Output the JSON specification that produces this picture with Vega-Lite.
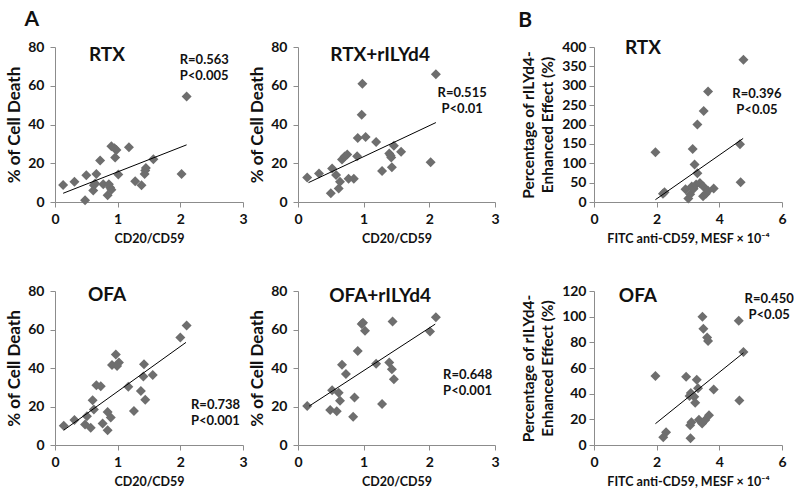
{
  "$schema": "https://vega.github.io/schema/vega-lite/v6.json",
  "padding": {"left": 5, "top": 9, "right": 0, "bottom": 0},
  "background": "white",
  "spacing": 18,
  "config": {
    "view": {"stroke": null},
    "font": "Lato",
    "axis": {
      "grid": false,
      "domainColor": "#8c8c8c",
      "tickColor": "#8c8c8c",
      "tickSize": 5,
      "labelFont": "Lato",
      "labelFontWeight": "bold",
      "labelFontSize": 14,
      "labelColor": "#111111",
      "titleFont": "Lato",
      "titleFontWeight": "bold",
      "titleColor": "#111111",
      "labelFlush": false,
      "labelOverlap": false
    },
    "axisX": {"labelPadding": 5, "titleFontSize": 12.5, "titlePadding": 6},
    "axisY": {"labelPadding": 6, "titleFontSize": 17, "titlePadding": 4}
  },
  "datasets": {
    "p1": [
      {"x": 0.13, "y": 8.8}, {"x": 0.31, "y": 10.5}, {"x": 0.48, "y": 0.9}, {"x": 0.5, "y": 13.8},
      {"x": 0.61, "y": 5.9}, {"x": 0.62, "y": 8.6}, {"x": 0.64, "y": 9.5}, {"x": 0.66, "y": 14.5},
      {"x": 0.72, "y": 21.4}, {"x": 0.77, "y": 9.2}, {"x": 0.84, "y": 3.5}, {"x": 0.86, "y": 9.2},
      {"x": 0.88, "y": 7.5}, {"x": 0.9, "y": 6.3}, {"x": 0.9, "y": 28.8}, {"x": 0.95, "y": 27.8},
      {"x": 0.96, "y": 23}, {"x": 0.98, "y": 26.8}, {"x": 1.01, "y": 14.2}, {"x": 1.18, "y": 28.3},
      {"x": 1.28, "y": 10.7}, {"x": 1.38, "y": 8.6}, {"x": 1.43, "y": 14.5}, {"x": 1.44, "y": 16.3},
      {"x": 1.45, "y": 17.5}, {"x": 1.57, "y": 22.1}, {"x": 2.02, "y": 14.5}, {"x": 2.1, "y": 54.5}
    ],
    "l1": [{"x": 0.13, "y": 4.5}, {"x": 2.1, "y": 29.5}],
    "p2": [
      {"x": 0.14, "y": 12.7}, {"x": 0.32, "y": 14.7}, {"x": 0.52, "y": 17.3}, {"x": 0.5, "y": 4.5},
      {"x": 0.58, "y": 14}, {"x": 0.62, "y": 7}, {"x": 0.64, "y": 10.4}, {"x": 0.67, "y": 22},
      {"x": 0.71, "y": 23.5}, {"x": 0.75, "y": 24.5}, {"x": 0.77, "y": 12}, {"x": 0.85, "y": 12},
      {"x": 0.9, "y": 23.6}, {"x": 0.91, "y": 33}, {"x": 0.97, "y": 45}, {"x": 0.98, "y": 61},
      {"x": 1.03, "y": 33.5}, {"x": 1.19, "y": 31}, {"x": 1.28, "y": 16}, {"x": 1.39, "y": 25},
      {"x": 1.41, "y": 24}, {"x": 1.42, "y": 23}, {"x": 1.43, "y": 18}, {"x": 1.46, "y": 29},
      {"x": 1.57, "y": 26}, {"x": 2.02, "y": 20.5}, {"x": 2.1, "y": 66}
    ],
    "l2": [{"x": 0.16, "y": 10}, {"x": 2.1, "y": 41}],
    "p3": [
      {"x": 1.96, "y": 128.5}, {"x": 2.2, "y": 21}, {"x": 2.25, "y": 25}, {"x": 2.92, "y": 33},
      {"x": 3.01, "y": 9}, {"x": 3.07, "y": 20}, {"x": 3.12, "y": 40}, {"x": 3.18, "y": 34},
      {"x": 3.15, "y": 137}, {"x": 3.21, "y": 97}, {"x": 3.3, "y": 74.5}, {"x": 3.3, "y": 200},
      {"x": 3.26, "y": 45}, {"x": 3.38, "y": 49}, {"x": 3.49, "y": 40}, {"x": 3.48, "y": 15},
      {"x": 3.5, "y": 235}, {"x": 3.57, "y": 21}, {"x": 3.64, "y": 29}, {"x": 3.64, "y": 285},
      {"x": 3.82, "y": 35}, {"x": 4.66, "y": 149}, {"x": 4.68, "y": 51}, {"x": 4.77, "y": 367}
    ],
    "l3": [{"x": 1.96, "y": 6}, {"x": 4.76, "y": 164}],
    "p4": [
      {"x": 0.14, "y": 10}, {"x": 0.31, "y": 13}, {"x": 0.48, "y": 10.7}, {"x": 0.51, "y": 15},
      {"x": 0.57, "y": 9}, {"x": 0.6, "y": 23.3}, {"x": 0.62, "y": 18.4}, {"x": 0.66, "y": 31},
      {"x": 0.73, "y": 30.5}, {"x": 0.76, "y": 11.2}, {"x": 0.84, "y": 17.2}, {"x": 0.84, "y": 7.7},
      {"x": 0.89, "y": 14.3}, {"x": 0.91, "y": 41.5}, {"x": 0.97, "y": 47}, {"x": 0.99, "y": 41},
      {"x": 1.02, "y": 42.8}, {"x": 1.17, "y": 30.3}, {"x": 1.26, "y": 17.7}, {"x": 1.37, "y": 28},
      {"x": 1.41, "y": 35.6}, {"x": 1.42, "y": 41.9}, {"x": 1.44, "y": 23.5}, {"x": 1.56, "y": 36.3},
      {"x": 2.0, "y": 55.8}, {"x": 2.1, "y": 62.1}
    ],
    "l4": [{"x": 0.14, "y": 7.7}, {"x": 2.09, "y": 53.3}],
    "p5": [
      {"x": 0.14, "y": 20.2}, {"x": 0.49, "y": 18.2}, {"x": 0.52, "y": 28.4}, {"x": 0.59, "y": 17.5},
      {"x": 0.62, "y": 27.2}, {"x": 0.64, "y": 23}, {"x": 0.67, "y": 41.7}, {"x": 0.73, "y": 36.9},
      {"x": 0.86, "y": 24.7}, {"x": 0.84, "y": 14.7}, {"x": 0.91, "y": 48.8}, {"x": 0.97, "y": 62.8},
      {"x": 0.99, "y": 63.5}, {"x": 1.02, "y": 59.3}, {"x": 1.19, "y": 42.2}, {"x": 1.28, "y": 21.3},
      {"x": 1.39, "y": 42.9}, {"x": 1.43, "y": 39.4}, {"x": 1.44, "y": 64.2}, {"x": 1.46, "y": 34.1},
      {"x": 2.01, "y": 59}, {"x": 2.1, "y": 66.3}
    ],
    "l5": [{"x": 0.17, "y": 20.2}, {"x": 2.09, "y": 62.8}],
    "p6": [
      {"x": 1.96, "y": 53.7}, {"x": 2.21, "y": 6}, {"x": 2.3, "y": 10}, {"x": 2.94, "y": 53.2},
      {"x": 3.05, "y": 38.2}, {"x": 3.09, "y": 40.5}, {"x": 3.08, "y": 5.3}, {"x": 3.07, "y": 15.3},
      {"x": 3.11, "y": 17.8}, {"x": 3.2, "y": 37.6}, {"x": 3.23, "y": 32.9}, {"x": 3.28, "y": 50.8},
      {"x": 3.32, "y": 44.2}, {"x": 3.35, "y": 19.7}, {"x": 3.45, "y": 16.8}, {"x": 3.46, "y": 100},
      {"x": 3.49, "y": 90.5}, {"x": 3.55, "y": 19.5}, {"x": 3.61, "y": 83.7}, {"x": 3.64, "y": 81},
      {"x": 3.67, "y": 23.2}, {"x": 3.82, "y": 43.2}, {"x": 4.64, "y": 34.7}, {"x": 4.62, "y": 96.8},
      {"x": 4.77, "y": 72.4}
    ],
    "l6": [{"x": 1.96, "y": 16.6}, {"x": 4.77, "y": 71.8}]
  },
  "hconcat": [
    {
      "spacing": 0,
      "hconcat": [
        {
          "spacing": 39,
          "vconcat": [
            {
              "width": 188, "height": 155,
              "layer": [
                {"data": {"name": "p1"}, "mark": {"type": "point", "shape": "diamond", "filled": true, "size": 100, "color": "#6e6e6e", "opacity": 1},
                 "encoding": {
                   "x": {"field": "x", "type": "quantitative", "scale": {"domain": [0, 3], "nice": false}, "axis": {"values": [0, 1, 2, 3], "format": "d", "title": "CD20/CD59"}},
                   "y": {"field": "y", "type": "quantitative", "scale": {"domain": [0, 80], "nice": false}, "axis": {"values": [0, 20, 40, 60, 80], "format": "d", "title": "% of Cell Death"}}}},
                {"data": {"name": "l1"}, "mark": {"type": "line", "color": "black", "strokeWidth": 1},
                 "encoding": {
                   "x": {"field": "x", "type": "quantitative", "axis": {"values": [0, 1, 2, 3], "format": "d", "title": "CD20/CD59"}},
                   "y": {"field": "y", "type": "quantitative", "axis": {"values": [0, 20, 40, 60, 80], "format": "d", "title": "% of Cell Death"}}}},
                {"data": {"values": [{}]}, "mark": {"type": "text", "text": "RTX", "fontSize": 19, "font": "Lato", "fontWeight": "bold", "color": "#111111"},
                 "encoding": {"x": {"datum": 0.83, "axis": {"values": [0, 1, 2, 3], "format": "d", "title": "CD20/CD59"}}, "y": {"datum": 75.9, "axis": {"values": [0, 20, 40, 60, 80], "format": "d", "title": "% of Cell Death"}}}},
                {"data": {"values": [{}]}, "mark": {"type": "text", "text": "R=0.563", "fontSize": 13, "align": "left", "font": "Lato", "fontWeight": "bold", "color": "#111111"},
                 "encoding": {"x": {"datum": 1.99, "axis": {"values": [0, 1, 2, 3], "format": "d", "title": "CD20/CD59"}}, "y": {"datum": 73.3, "axis": {"values": [0, 20, 40, 60, 80], "format": "d", "title": "% of Cell Death"}}}},
                {"data": {"values": [{}]}, "mark": {"type": "text", "text": "P<0.005", "fontSize": 13, "align": "left", "font": "Lato", "fontWeight": "bold", "color": "#111111"},
                 "encoding": {"x": {"datum": 1.99, "axis": {"values": [0, 1, 2, 3], "format": "d", "title": "CD20/CD59"}}, "y": {"datum": 65, "axis": {"values": [0, 20, 40, 60, 80], "format": "d", "title": "% of Cell Death"}}}},
                {"data": {"values": [{}]}, "mark": {"type": "text", "text": "A", "fontSize": 21, "font": "Lato", "fontWeight": "bold", "color": "#111111"},
                 "encoding": {"x": {"datum": -0.37, "axis": {"values": [0, 1, 2, 3], "format": "d", "title": "CD20/CD59"}}, "y": {"datum": 93.7, "axis": {"values": [0, 20, 40, 60, 80], "format": "d", "title": "% of Cell Death"}}}}
              ]
            },
            {
              "width": 188, "height": 154,
              "layer": [
                {"data": {"name": "p4"}, "mark": {"type": "point", "shape": "diamond", "filled": true, "size": 100, "color": "#6e6e6e", "opacity": 1},
                 "encoding": {
                   "x": {"field": "x", "type": "quantitative", "scale": {"domain": [0, 3], "nice": false}, "axis": {"values": [0, 1, 2, 3], "format": "d", "title": "CD20/CD59"}},
                   "y": {"field": "y", "type": "quantitative", "scale": {"domain": [0, 80], "nice": false}, "axis": {"values": [0, 20, 40, 60, 80], "format": "d", "title": "% of Cell Death"}}}},
                {"data": {"name": "l4"}, "mark": {"type": "line", "color": "black", "strokeWidth": 1},
                 "encoding": {
                   "x": {"field": "x", "type": "quantitative", "axis": {"values": [0, 1, 2, 3], "format": "d", "title": "CD20/CD59"}},
                   "y": {"field": "y", "type": "quantitative", "axis": {"values": [0, 20, 40, 60, 80], "format": "d", "title": "% of Cell Death"}}}},
                {"data": {"values": [{}]}, "mark": {"type": "text", "text": "OFA", "fontSize": 19, "font": "Lato", "fontWeight": "bold", "color": "#111111"},
                 "encoding": {"x": {"datum": 0.83, "axis": {"values": [0, 1, 2, 3], "format": "d", "title": "CD20/CD59"}}, "y": {"datum": 77.9, "axis": {"values": [0, 20, 40, 60, 80], "format": "d", "title": "% of Cell Death"}}}},
                {"data": {"values": [{}]}, "mark": {"type": "text", "text": "R=0.738", "fontSize": 13, "align": "left", "font": "Lato", "fontWeight": "bold", "color": "#111111"},
                 "encoding": {"x": {"datum": 2.17, "axis": {"values": [0, 1, 2, 3], "format": "d", "title": "CD20/CD59"}}, "y": {"datum": 20.8, "axis": {"values": [0, 20, 40, 60, 80], "format": "d", "title": "% of Cell Death"}}}},
                {"data": {"values": [{}]}, "mark": {"type": "text", "text": "P<0.001", "fontSize": 13, "align": "left", "font": "Lato", "fontWeight": "bold", "color": "#111111"},
                 "encoding": {"x": {"datum": 2.17, "axis": {"values": [0, 1, 2, 3], "format": "d", "title": "CD20/CD59"}}, "y": {"datum": 12.5, "axis": {"values": [0, 20, 40, 60, 80], "format": "d", "title": "% of Cell Death"}}}}
              ]
            }
          ]
        },
        {
          "spacing": 39,
          "vconcat": [
            {
              "width": 197, "height": 155,
              "layer": [
                {"data": {"name": "p2"}, "mark": {"type": "point", "shape": "diamond", "filled": true, "size": 100, "color": "#6e6e6e", "opacity": 1},
                 "encoding": {
                   "x": {"field": "x", "type": "quantitative", "scale": {"domain": [0, 3], "nice": false}, "axis": {"values": [0, 1, 2, 3], "format": "d", "title": "CD20/CD59"}},
                   "y": {"field": "y", "type": "quantitative", "scale": {"domain": [0, 80], "nice": false}, "axis": {"values": [0, 20, 40, 60, 80], "format": "d", "title": "% of Cell Death"}}}},
                {"data": {"name": "l2"}, "mark": {"type": "line", "color": "black", "strokeWidth": 1},
                 "encoding": {
                   "x": {"field": "x", "type": "quantitative", "axis": {"values": [0, 1, 2, 3], "format": "d", "title": "CD20/CD59"}},
                   "y": {"field": "y", "type": "quantitative", "axis": {"values": [0, 20, 40, 60, 80], "format": "d", "title": "% of Cell Death"}}}},
                {"data": {"values": [{}]}, "mark": {"type": "text", "text": "RTX+rILYd4", "fontSize": 19, "font": "Lato", "fontWeight": "bold", "color": "#111111"},
                 "encoding": {"x": {"datum": 1.25, "axis": {"values": [0, 1, 2, 3], "format": "d", "title": "CD20/CD59"}}, "y": {"datum": 75.9, "axis": {"values": [0, 20, 40, 60, 80], "format": "d", "title": "% of Cell Death"}}}},
                {"data": {"values": [{}]}, "mark": {"type": "text", "text": "R=0.515", "fontSize": 13, "font": "Lato", "fontWeight": "bold", "color": "#111111"},
                 "encoding": {"x": {"datum": 2.5, "axis": {"values": [0, 1, 2, 3], "format": "d", "title": "CD20/CD59"}}, "y": {"datum": 56.3, "axis": {"values": [0, 20, 40, 60, 80], "format": "d", "title": "% of Cell Death"}}}},
                {"data": {"values": [{}]}, "mark": {"type": "text", "text": "P<0.01", "fontSize": 13, "font": "Lato", "fontWeight": "bold", "color": "#111111"},
                 "encoding": {"x": {"datum": 2.5, "axis": {"values": [0, 1, 2, 3], "format": "d", "title": "CD20/CD59"}}, "y": {"datum": 48, "axis": {"values": [0, 20, 40, 60, 80], "format": "d", "title": "% of Cell Death"}}}}
              ]
            },
            {
              "width": 197, "height": 154,
              "layer": [
                {"data": {"name": "p5"}, "mark": {"type": "point", "shape": "diamond", "filled": true, "size": 100, "color": "#6e6e6e", "opacity": 1},
                 "encoding": {
                   "x": {"field": "x", "type": "quantitative", "scale": {"domain": [0, 3], "nice": false}, "axis": {"values": [0, 1, 2, 3], "format": "d", "title": "CD20/CD59"}},
                   "y": {"field": "y", "type": "quantitative", "scale": {"domain": [0, 80], "nice": false}, "axis": {"values": [0, 20, 40, 60, 80], "format": "d", "title": "% of Cell Death"}}}},
                {"data": {"name": "l5"}, "mark": {"type": "line", "color": "black", "strokeWidth": 1},
                 "encoding": {
                   "x": {"field": "x", "type": "quantitative", "axis": {"values": [0, 1, 2, 3], "format": "d", "title": "CD20/CD59"}},
                   "y": {"field": "y", "type": "quantitative", "axis": {"values": [0, 20, 40, 60, 80], "format": "d", "title": "% of Cell Death"}}}},
                {"data": {"values": [{}]}, "mark": {"type": "text", "text": "OFA+rILYd4", "fontSize": 19, "font": "Lato", "fontWeight": "bold", "color": "#111111"},
                 "encoding": {"x": {"datum": 1.25, "axis": {"values": [0, 1, 2, 3], "format": "d", "title": "CD20/CD59"}}, "y": {"datum": 77.4, "axis": {"values": [0, 20, 40, 60, 80], "format": "d", "title": "% of Cell Death"}}}},
                {"data": {"values": [{}]}, "mark": {"type": "text", "text": "R=0.648", "fontSize": 13, "align": "left", "font": "Lato", "fontWeight": "bold", "color": "#111111"},
                 "encoding": {"x": {"datum": 2.21, "axis": {"values": [0, 1, 2, 3], "format": "d", "title": "CD20/CD59"}}, "y": {"datum": 36.4, "axis": {"values": [0, 20, 40, 60, 80], "format": "d", "title": "% of Cell Death"}}}},
                {"data": {"values": [{}]}, "mark": {"type": "text", "text": "P<0.001", "fontSize": 13, "align": "left", "font": "Lato", "fontWeight": "bold", "color": "#111111"},
                 "encoding": {"x": {"datum": 2.21, "axis": {"values": [0, 1, 2, 3], "format": "d", "title": "CD20/CD59"}}, "y": {"datum": 28.1, "axis": {"values": [0, 20, 40, 60, 80], "format": "d", "title": "% of Cell Death"}}}}
              ]
            }
          ]
        }
      ]
    },
    {
      "spacing": 39,
      "vconcat": [
        {
          "width": 188, "height": 155,
          "layer": [
            {"data": {"name": "p3"}, "mark": {"type": "point", "shape": "diamond", "filled": true, "size": 100, "color": "#6e6e6e", "opacity": 1},
             "encoding": {
               "x": {"field": "x", "type": "quantitative", "scale": {"domain": [0, 6], "nice": false}, "axis": {"values": [0, 2, 4, 6], "format": "d", "title": "FITC anti-CD59, MESF × 10⁻⁴"}},
               "y": {"field": "y", "type": "quantitative", "scale": {"domain": [0, 400], "nice": false}, "axis": {"values": [0, 50, 100, 150, 200, 250, 300, 350, 400], "format": "d", "title": ["Percentage of rILYd4-", "Enhanced Effect (%)"], "titleFontSize": 15.5, "titleLineHeight": 19, "titlePadding": 6, "labelPadding": 3}}}},
            {"data": {"name": "l3"}, "mark": {"type": "line", "color": "black", "strokeWidth": 1},
             "encoding": {
               "x": {"field": "x", "type": "quantitative", "axis": {"values": [0, 2, 4, 6], "format": "d", "title": "FITC anti-CD59, MESF × 10⁻⁴"}},
               "y": {"field": "y", "type": "quantitative", "axis": {"values": [0, 50, 100, 150, 200, 250, 300, 350, 400], "format": "d", "title": ["Percentage of rILYd4-", "Enhanced Effect (%)"], "titleFontSize": 15.5, "titleLineHeight": 19, "titlePadding": 6, "labelPadding": 3}}}},
            {"data": {"values": [{}]}, "mark": {"type": "text", "text": "RTX", "fontSize": 19, "font": "Lato", "fontWeight": "bold", "color": "#111111"},
             "encoding": {"x": {"datum": 1.56, "axis": {"values": [0, 2, 4, 6], "format": "d", "title": "FITC anti-CD59, MESF × 10⁻⁴"}}, "y": {"datum": 397, "axis": {"values": [0, 50, 100, 150, 200, 250, 300, 350, 400], "format": "d", "title": ["Percentage of rILYd4-", "Enhanced Effect (%)"], "titleFontSize": 15.5, "titleLineHeight": 19, "titlePadding": 6, "labelPadding": 3}}}},
            {"data": {"values": [{}]}, "mark": {"type": "text", "text": "R=0.396", "fontSize": 13, "font": "Lato", "fontWeight": "bold", "color": "#111111"},
             "encoding": {"x": {"datum": 5.2, "axis": {"values": [0, 2, 4, 6], "format": "d", "title": "FITC anti-CD59, MESF × 10⁻⁴"}}, "y": {"datum": 279, "axis": {"values": [0, 50, 100, 150, 200, 250, 300, 350, 400], "format": "d", "title": ["Percentage of rILYd4-", "Enhanced Effect (%)"], "titleFontSize": 15.5, "titleLineHeight": 19, "titlePadding": 6, "labelPadding": 3}}}},
            {"data": {"values": [{}]}, "mark": {"type": "text", "text": "P<0.05", "fontSize": 13, "font": "Lato", "fontWeight": "bold", "color": "#111111"},
             "encoding": {"x": {"datum": 5.2, "axis": {"values": [0, 2, 4, 6], "format": "d", "title": "FITC anti-CD59, MESF × 10⁻⁴"}}, "y": {"datum": 237, "axis": {"values": [0, 50, 100, 150, 200, 250, 300, 350, 400], "format": "d", "title": ["Percentage of rILYd4-", "Enhanced Effect (%)"], "titleFontSize": 15.5, "titleLineHeight": 19, "titlePadding": 6, "labelPadding": 3}}}},
            {"data": {"values": [{}]}, "mark": {"type": "text", "text": "B", "fontSize": 21, "font": "Lato", "fontWeight": "bold", "color": "#111111"},
             "encoding": {"x": {"datum": -2.2, "axis": {"values": [0, 2, 4, 6], "format": "d", "title": "FITC anti-CD59, MESF × 10⁻⁴"}}, "y": {"datum": 468, "axis": {"values": [0, 50, 100, 150, 200, 250, 300, 350, 400], "format": "d", "title": ["Percentage of rILYd4-", "Enhanced Effect (%)"], "titleFontSize": 15.5, "titleLineHeight": 19, "titlePadding": 6, "labelPadding": 3}}}}
          ]
        },
        {
          "width": 188, "height": 154,
          "layer": [
            {"data": {"name": "p6"}, "mark": {"type": "point", "shape": "diamond", "filled": true, "size": 100, "color": "#6e6e6e", "opacity": 1},
             "encoding": {
               "x": {"field": "x", "type": "quantitative", "scale": {"domain": [0, 6], "nice": false}, "axis": {"values": [0, 2, 4, 6], "format": "d", "title": "FITC anti-CD59, MESF × 10⁻⁴"}},
               "y": {"field": "y", "type": "quantitative", "scale": {"domain": [0, 120], "nice": false}, "axis": {"values": [0, 20, 40, 60, 80, 100, 120], "format": "d", "title": ["Percentage of rILYd4-", "Enhanced Effect (%)"], "titleFontSize": 15.5, "titleLineHeight": 19, "titlePadding": 6, "labelPadding": 3}}}},
            {"data": {"name": "l6"}, "mark": {"type": "line", "color": "black", "strokeWidth": 1},
             "encoding": {
               "x": {"field": "x", "type": "quantitative", "axis": {"values": [0, 2, 4, 6], "format": "d", "title": "FITC anti-CD59, MESF × 10⁻⁴"}},
               "y": {"field": "y", "type": "quantitative", "axis": {"values": [0, 20, 40, 60, 80, 100, 120], "format": "d", "title": ["Percentage of rILYd4-", "Enhanced Effect (%)"], "titleFontSize": 15.5, "titleLineHeight": 19, "titlePadding": 6, "labelPadding": 3}}}},
            {"data": {"values": [{}]}, "mark": {"type": "text", "text": "OFA", "fontSize": 19, "font": "Lato", "fontWeight": "bold", "color": "#111111"},
             "encoding": {"x": {"datum": 1.4, "axis": {"values": [0, 2, 4, 6], "format": "d", "title": "FITC anti-CD59, MESF × 10⁻⁴"}}, "y": {"datum": 116, "axis": {"values": [0, 20, 40, 60, 80, 100, 120], "format": "d", "title": ["Percentage of rILYd4-", "Enhanced Effect (%)"], "titleFontSize": 15.5, "titleLineHeight": 19, "titlePadding": 6, "labelPadding": 3}}}},
            {"data": {"values": [{}]}, "mark": {"type": "text", "text": "R=0.450", "fontSize": 13, "font": "Lato", "fontWeight": "bold", "color": "#111111"},
             "encoding": {"x": {"datum": 5.59, "axis": {"values": [0, 2, 4, 6], "format": "d", "title": "FITC anti-CD59, MESF × 10⁻⁴"}}, "y": {"datum": 113.8, "axis": {"values": [0, 20, 40, 60, 80, 100, 120], "format": "d", "title": ["Percentage of rILYd4-", "Enhanced Effect (%)"], "titleFontSize": 15.5, "titleLineHeight": 19, "titlePadding": 6, "labelPadding": 3}}}},
            {"data": {"values": [{}]}, "mark": {"type": "text", "text": "P<0.05", "fontSize": 13, "font": "Lato", "fontWeight": "bold", "color": "#111111"},
             "encoding": {"x": {"datum": 5.59, "axis": {"values": [0, 2, 4, 6], "format": "d", "title": "FITC anti-CD59, MESF × 10⁻⁴"}}, "y": {"datum": 101.3, "axis": {"values": [0, 20, 40, 60, 80, 100, 120], "format": "d", "title": ["Percentage of rILYd4-", "Enhanced Effect (%)"], "titleFontSize": 15.5, "titleLineHeight": 19, "titlePadding": 6, "labelPadding": 3}}}}
          ]
        }
      ]
    }
  ]
}
